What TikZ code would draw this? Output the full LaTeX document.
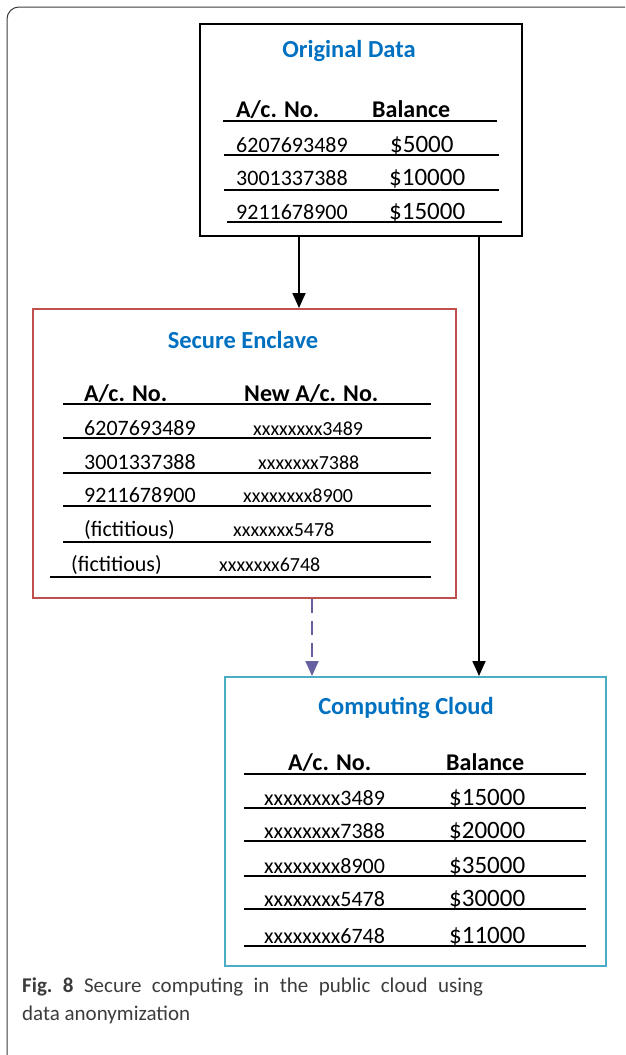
\documentclass[tikz,border=0pt]{standalone}
\usepackage{fontspec}
\setmainfont{Carlito}
\usepackage{tikz}
\usetikzlibrary{arrows.meta}
\definecolor{titleblue}{RGB}{0,112,192}
\definecolor{enclred}{RGB}{192,80,77}
\definecolor{cloudblue}{RGB}{75,172,198}
\definecolor{dashpurple}{RGB}{102,96,160}
\definecolor{framegray}{RGB}{60,60,60}
\tikzset{
	x=1pt, y=-1pt,
	box/.style = {
		draw,
		line width=2pt,
		inner sep=0pt
	},
	boxtitle/.style = {
		font=\fontsize{24.5}{28}\selectfont\bfseries,
		text=titleblue
	},
	colhead/.style = {
		anchor=base west,
		inner sep=0pt,
		font=\fontsize{24}{28}\selectfont\bfseries
	},
	cell/.style = {
		anchor=base west,
		inner sep=0pt,
		font=\fontsize{22}{26}\selectfont
	},
	maskcell/.style = {
		cell,
		font=\fontsize{20}{24}\selectfont
	},
	money/.style = {
		cell,
		font=\fontsize{25}{28}\selectfont
	},
	rule/.style = {
		line width=1.4pt
	},
	flow/.style = {
		line width=1.8pt,
		-{Triangle[width=13pt,length=15pt]}
	}
}

\begin{document}
\begin{tikzpicture}
	\useasboundingbox (0,0) rectangle (625,1055);
	\clip (0,0) rectangle (625,1055);
	\draw[framegray, line width=1pt, rounded corners=12pt] (7,7) rectangle (660,1090);

	% original data
	\node[box, minimum width=322pt, minimum height=212pt] (orig) at (361,130) {};
	\node[boxtitle] (origtitle) at (349,51) {Original Data};
	\node[colhead] (oh1) at (236,117) {A/c. No.};
	\node[colhead] (oh2) at (372,117) {Balance};
	\draw[rule] (223,121) -- (497,121);
	\node[cell] (o1a) at (236,152) {6207693489};
	\node[money] (o1b) at (390,152) {\$5000};
	\draw[rule] (224,155) -- (499,155);
	\node[cell] (o2a) at (236,185) {3001337388};
	\node[money] (o2b) at (389,185) {\$10000};
	\draw[rule] (224,190) -- (499,190);
	\node[cell] (o3a) at (236,219) {9211678900};
	\node[money] (o3b) at (389,219) {\$15000};
	\draw[rule] (227,222) -- (502,222);

	% secure enclave
	\node[box, draw=enclred, minimum width=423pt, minimum height=289pt] (encl) at (244.5,453.5) {};
	\node[boxtitle] (encltitle) at (243,340) {Secure Enclave};
	\node[colhead] (eh1) at (84,401) {A/c. No.};
	\node[colhead] (eh2) at (244,401) {New A/c. No.};
	\draw[rule] (63,404) -- (431,404);
	\node[cell] (e1a) at (84,435) {6207693489};
	\node[maskcell] (e1b) at (253,435) {xxxxxxxx3489};
	\draw[rule] (63,438) -- (431,438);
	\node[cell] (e2a) at (84,469) {3001337388};
	\node[maskcell] (e2b) at (258,469) {xxxxxxx7388};
	\draw[rule] (63,473) -- (431,473);
	\node[cell] (e3a) at (84,502) {9211678900};
	\node[maskcell] (e3b) at (243,502) {xxxxxxxx8900};
	\draw[rule] (63,506) -- (431,506);
	\node[cell] (e4a) at (84,536) {(fictitious)};
	\node[maskcell] (e4b) at (233,536) {xxxxxxx5478};
	\draw[rule] (63,542) -- (431,542);
	\node[cell] (e5a) at (71,571) {(fictitious)};
	\node[maskcell] (e5b) at (219,571) {xxxxxxx6748};
	\draw[rule] (50,577) -- (431,577);

	% computing cloud
	\node[box, draw=cloudblue, minimum width=381pt, minimum height=289pt] (cloud) at (415.5,821.5) {};
	\node[boxtitle] (cloudtitle) at (406,708) {Computing Cloud};
	\node[colhead] (ch1) at (288,770) {A/c. No.};
	\node[colhead] (ch2) at (446,770) {Balance};
	\draw[rule] (244,774) -- (586,774);
	\foreach \y/\acc/\bal [count=\i] in {805/xxxxxxxx3489/15000, 838/xxxxxxxx7388/20000,
			873/xxxxxxxx8900/35000, 906/xxxxxxxx5478/30000, 943/xxxxxxxx6748/11000} {
		\node[cell] (c\i a) at (264,\y) {\acc};
		\node[money] (c\i b) at (449,\y) {\$\bal};
		\draw[rule] (244,\y+3) -- (586,\y+3);
	}

	% connectors
	\draw[flow] ([xshift=-62pt]orig.south) -- ([xshift=-62pt]orig.south |- encl.north);
	\draw[flow] ([xshift=118pt]orig.south) -- ([xshift=118pt]orig.south |- cloud.north);
	\draw[flow, dashpurple, dash pattern=on 14pt off 8pt] ([xshift=67.5pt]encl.south) -- ([xshift=67.5pt]encl.south |- cloud.north);

	% caption
	\node[anchor=north west, inner sep=0pt, text width=461pt, align=justify,
		font=\fontsize{21}{28}\selectfont, text=framegray] (caption) at (22,978)
		{\textbf{Fig.~8} Secure computing in the public cloud using\linebreak data anonymization};
\end{tikzpicture}
\end{document}
